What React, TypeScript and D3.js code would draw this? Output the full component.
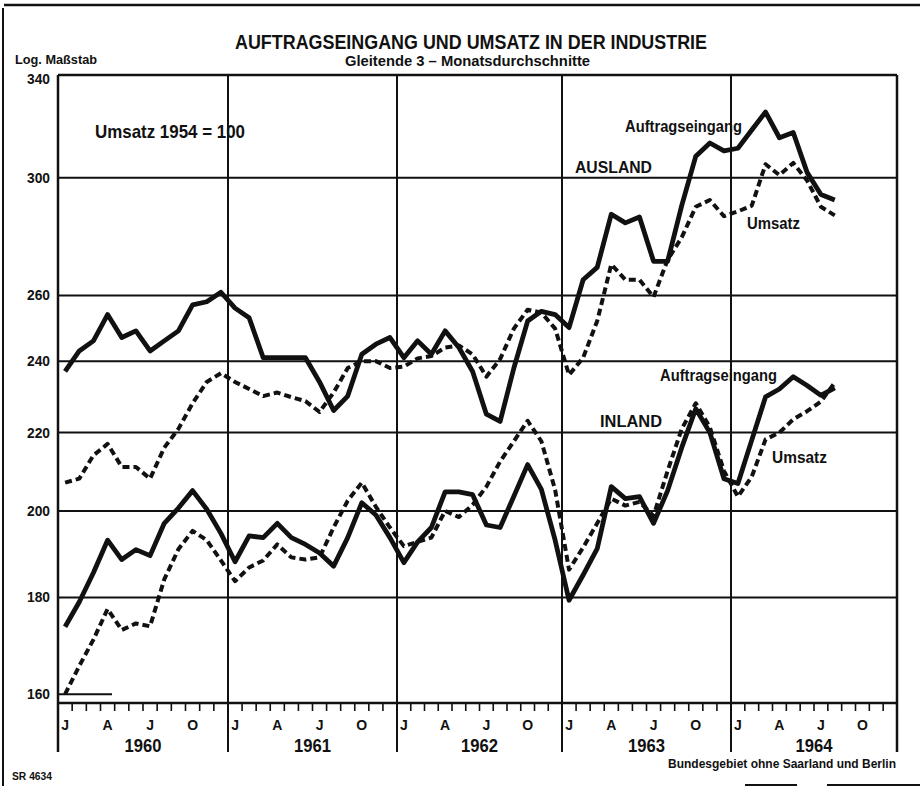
import React from "react";
import * as d3 from "d3";

const years = ["1960", "1961", "1962", "1963", "1964"];
const monthLabels = ["J", "A", "J", "O"];
const monthLabelIdx = [0, 3, 6, 9];
const yTicks = [160, 180, 200, 220, 240, 260, 300, 340];
const gridValues = [180, 200, 220, 240, 260, 300];

// Monthly values Jan 1960 .. Aug 1964 (3-month moving averages), Umsatz 1954 = 100
const ausAuftrag = [
  237, 243, 246, 254, 247, 249, 243, 246, 249, 257, 258, 261,
  256, 253, 241, 241, 241, 241, 234, 226, 230, 242, 245, 247,
  241, 246, 242, 249, 244, 237, 225, 223, 238, 252, 255, 254,
  250, 265, 269, 287, 284, 286, 271, 271, 290, 308, 313, 310,
  311, 318, 325, 315, 317, 302, 294, 292,
];
const ausUmsatz = [
  207, 208, 214, 217, 211, 211, 208, 216, 221, 228, 234, 236.5,
  234, 232, 230, 231, 229.7, 228.6, 225.6, 231, 238, 240, 240, 238,
  238.4, 240.8, 241.5, 244, 244.6, 242, 235.5, 240.6, 249.7, 255.5, 254.6, 249.7,
  236, 241, 252, 270, 265, 265, 259.5, 271.5, 279, 289.6, 292, 286.3,
  288, 290, 305, 301, 305.5, 299, 289.6, 286.6,
];
const inlAuftrag = [
  173.7, 179, 185.5, 193, 188.5, 190.8, 189.4, 197, 200.7, 205, 200.4, 194.6,
  188, 194, 193.6, 197, 193.6, 192, 190, 187, 193.6, 202, 199, 193.6,
  187.8, 192.6, 196, 204.7, 204.7, 204, 196.6, 196, 203.6, 211.6, 205.3, 193,
  179.4, 185, 191, 206, 203, 203.5, 197, 205, 216, 226.5, 220, 208,
  206.8, 218, 229.8, 232, 235.5, 233, 230.2, 232.3,
];
const inlUmsatz = [
  160, 165.6, 171, 177.5, 173, 174.4, 173.8, 184, 190.9, 195.2, 193, 188.3,
  183.6, 186.7, 188.3, 192, 189, 188.5, 189, 196, 202.5, 207, 201, 196,
  191.6, 192.6, 193.6, 200, 198.5, 201.5, 206, 212.4, 217.7, 223.2, 217.7, 205.2,
  186.2, 191.3, 197, 203, 201.3, 202.2, 198.8, 210, 221, 228, 221.4, 210,
  203.5, 208.5, 218.2, 220, 223.6, 225.8, 228.5, 233.8,
];

const FONT = "'Liberation Sans', Arial, sans-serif";

export default function App() {
  const W = 920;
  const H = 786;
  const x = d3
    .scaleLinear()
    .domain([0, 12, 24, 36, 48, 60])
    .range([58, 228, 397, 562, 731, 897]);
  const y = d3.scaleLog().domain([158.3, 340]).range([703, 75]);
  const left = x(0);
  const right = x(60);
  const axisY = y(158.3);
  const frameBottom = 752;

  const line = d3
    .line<number>()
    .x((_, i) => x(i + 0.5))
    .y((d) => y(d));

  const T = (props: any) => (
    <text
      fontFamily={FONT}
      fontWeight="bold"
      lengthAdjust="spacingAndGlyphs"
      fill="#111"
      {...props}
    />
  );

  const monthTicks = d3.range(0, 61);

  return (
    <svg
      width={W}
      height={H}
      style={{ position: "absolute", left: 0, top: 0, background: "#fff" }}
    >
      <rect x={0} y={0} width={W} height={H} fill="#fff" />
      {/* outer scan frame */}
      <line x1={3} y1={8} x2={3} y2={786} stroke="#111" strokeWidth={2} />
      <line x1={4} y1={5} x2={920} y2={5} stroke="#111" strokeWidth={2.5} />
      <line x1={745} y1={785} x2={797} y2={785} stroke="#111" strokeWidth={2} />
      <line x1={827} y1={785} x2={920} y2={785} stroke="#111" strokeWidth={2} />

      {/* titles */}
      <T x={235} y={49} fontSize={20} textLength={472}>
        AUFTRAGSEINGANG UND UMSATZ IN DER INDUSTRIE
      </T>
      <T x={345} y={66} fontSize={15} textLength={245}>
        Gleitende 3 – Monatsdurchschnitte
      </T>
      <T x={15} y={64} fontSize={13} textLength={82}>
        Log. Maßstab
      </T>

      {/* horizontal grid */}
      {gridValues.map((v) => (
        <line
          key={v}
          x1={left}
          x2={right}
          y1={y(v)}
          y2={y(v)}
          stroke="#111"
          strokeWidth={2}
        />
      ))}
      <line x1={left} x2={right} y1={y(340)} y2={y(340)} stroke="#111" strokeWidth={2.5} />
      <line x1={left} x2={112} y1={y(160)} y2={y(160)} stroke="#111" strokeWidth={2} />

      {/* vertical year lines and borders */}
      {d3.range(0, 61, 12).map((m) => (
        <line
          key={m}
          x1={x(m)}
          x2={x(m)}
          y1={y(340)}
          y2={frameBottom}
          stroke="#111"
          strokeWidth={m === 0 || m === 60 ? 2.5 : 2}
        />
      ))}
      {/* bottom axis */}
      <line x1={left} x2={right} y1={axisY} y2={axisY} stroke="#111" strokeWidth={2.5} />
      {monthTicks.map((m) => (
        <line
          key={m}
          x1={x(m)}
          x2={x(m)}
          y1={axisY}
          y2={axisY + 8}
          stroke="#111"
          strokeWidth={1.6}
        />
      ))}

      {/* y labels */}
      {yTicks.map((v) => (
        <T
          key={v}
          x={50}
          y={v === 340 ? y(v) + 9 : y(v) + 5}
          fontSize={14}
          textAnchor="end"
          textLength={23}
        >
          {v}
        </T>
      ))}

      {/* month + year labels */}
      {years.map((yr, yi) => (
        <g key={yr}>
          {monthLabels.map((ml, mi) => (
            <T
              key={mi}
              x={x(yi * 12 + monthLabelIdx[mi] + 0.5)}
              y={730}
              fontSize={14}
              textAnchor="middle"
            >
              {ml}
            </T>
          ))}
          <T
            x={x(yi * 12 + 6)}
            y={752}
            fontSize={19}
            textAnchor="middle"
            textLength={37}
          >
            {yr}
          </T>
        </g>
      ))}

      {/* data lines */}
      <path
        d={line(ausAuftrag) || ""}
        fill="none"
        stroke="#111"
        strokeWidth={4.8}
        strokeLinejoin="round"
      />
      <path
        d={line(ausUmsatz) || ""}
        fill="none"
        stroke="#111"
        strokeWidth={4}
        strokeDasharray="7 4"
        strokeLinejoin="round"
      />
      <path
        d={line(inlAuftrag) || ""}
        fill="none"
        stroke="#111"
        strokeWidth={4.8}
        strokeLinejoin="round"
      />
      <path
        d={line(inlUmsatz) || ""}
        fill="none"
        stroke="#111"
        strokeWidth={4}
        strokeDasharray="7 4"
        strokeLinejoin="round"
      />

      {/* annotations */}
      <T x={95} y={138} fontSize={19} textLength={150}>
        Umsatz 1954 = 100
      </T>
      <T x={625} y={132} fontSize={16} textLength={117}>
        Auftragseingang
      </T>
      <T x={575} y={173} fontSize={17} textLength={77}>
        AUSLAND
      </T>
      <T x={747} y={229} fontSize={17} textLength={53}>
        Umsatz
      </T>
      <T x={660} y={381} fontSize={16} textLength={117}>
        Auftragseingang
      </T>
      <T x={600} y={427} fontSize={17} textLength={62}>
        INLAND
      </T>
      <T x={772} y={463} fontSize={17} textLength={55}>
        Umsatz
      </T>

      {/* footer */}
      <T x={12} y={780} fontSize={10} textLength={40}>
        SR 4634
      </T>
      <T x={668} y={768} fontSize={13} textLength={228}>
        Bundesgebiet ohne Saarland und Berlin
      </T>
    </svg>
  );
}
